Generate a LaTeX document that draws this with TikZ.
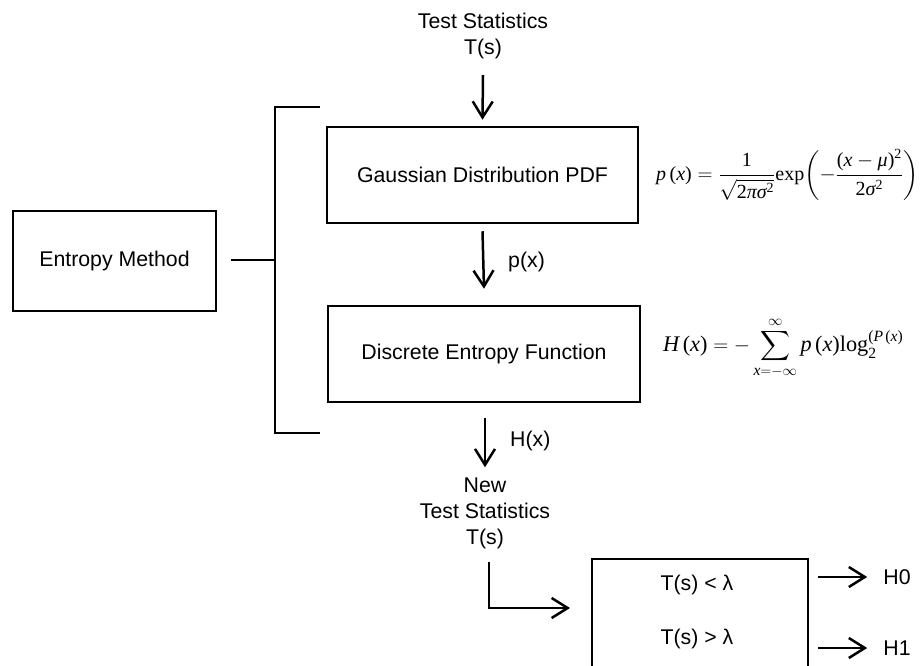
\documentclass[tikz,border=0pt]{standalone}
\usepackage{amsmath}
\usepackage[no-math]{fontspec}
\setmainfont{Liberation Sans}
\newfontfamily\tms{Liberation Serif}
\newcommand{\ti}[1]{\text{\tms\itshape #1}}
\newcommand{\tr}[1]{\text{\tms #1}}
\usetikzlibrary{arrows.meta}
\tikzset{
  lw/.style={line width=2.5pt},
  boxnode/.style={draw, lw, rectangle, inner sep=0pt, align=center},
  lbl/.style={inner sep=0pt, align=center, font=\fontsize{21.3}{26}\selectfont},
  arr/.style={lw, -{Straight Barb[length=16pt, width=20pt, line width=2.5pt]}},
  formula/.style={inner sep=0pt},
}
\begin{document}
\begin{tikzpicture}[x=1pt, y=-1pt, font=\fontsize{21.3}{26}\selectfont]
\useasboundingbox (0,0) rectangle (921,666);
\clip (0,0) rectangle (921,666);
% top input
\node[lbl] (ts) at (483,36) {Test Statistics\\T(s)};
% boxes
\node[boxnode, minimum width=203pt, minimum height=100pt] (ent) at (114.5,261) {Entropy Method};
\node[boxnode, minimum width=311pt, minimum height=96pt] (gauss) at (482.5,175) {Gaussian Distribution PDF};
\node[boxnode, minimum width=312pt, minimum height=96pt] (disc) at (484,354) {Discrete Entropy Function};
\node[boxnode, minimum width=216pt, minimum height=150pt] (dec) at (700,634) {};
\node[lbl] (lt) at (697,585) {T(s) < λ};
\node[lbl] (gt) at (697,639) {T(s) > λ};
% formulas
\node[formula, anchor=west, font=\fontsize{20}{24}\selectfont] (f1) at (656,175)
  {$\ti{p}\,\tr{(}\ti{x}\tr{)} = \dfrac{\tr{1}}{\sqrt{\tr{2}\ti{πσ}^{\tr{2}}}}\tr{exp}\!\left(-\dfrac{\tr{(}\ti{x}-\ti{μ}\tr{)}^{\tr{2}}}{\tr{2}\ti{σ}^{\tr{2}}}\right)$};
\node[formula, anchor=west, font=\fontsize{22.3}{26}\selectfont] (f2) at (663,348)
  {$\ti{H}\,\tr{(}\ti{x}\tr{)} = -\displaystyle\sum_{\ti{x}=-\infty}^{\infty}\ti{p}\,\tr{(}\ti{x}\tr{)}\tr{log}_{\tr{2}}^{\tr{(}\ti{P}\,\tr{(}\ti{x}\tr{)}}$};
% bracket
\coordinate (brtop) at (320,107);
\coordinate (brtl) at (275,107);
\coordinate (brbl) at (275,433);
\coordinate (brbot) at (320,433);
\coordinate (brmid) at (275,260);
\draw[lw] (brtop) -- (brtl) -- (brbl) -- (brbot);
\draw[lw] ([xshift=14pt]ent.east |- brmid) -- (brmid);
% vertical flow
\draw[arr] ([yshift=-16pt]ts.south) -- ([yshift=6pt]gauss.north);
\draw[arr] ([yshift=-7pt]gauss.south) -- ([yshift=16pt]disc.north);
\node[lbl, anchor=west] (pxl) at (508,262) {p(x)};
\node[lbl] (nts) at (485,513) {New\\Test Statistics\\T(s)};
\draw[arr] ([yshift=-15pt]disc.south -| nts.north) -- ([yshift=10pt]nts.north);
\node[lbl, anchor=west] (hxl) at (510,441) {H(x)};
% L connector
\coordinate (lstart) at (489,562);
\coordinate (lend) at (570,608);
\draw[arr] (lstart) |- (lend);
% outputs
\node[lbl] (h0) at (897,577) {H0};
\node[lbl] (h1) at (897,648) {H1};
\coordinate (a0) at (818,577);
\coordinate (a1) at (818,648);
\draw[arr] (a0) -- ([xshift=-16pt]h0.west);
\draw[arr] (a1) -- ([xshift=-16pt]h1.west);
\end{tikzpicture}
\end{document}
